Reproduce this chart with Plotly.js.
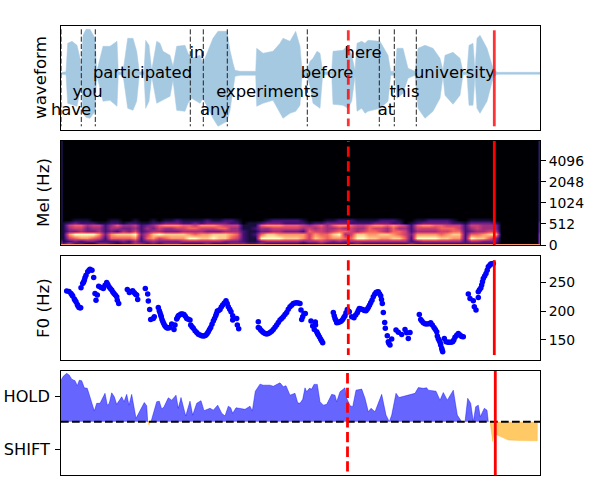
<!DOCTYPE html>
<html><head><meta charset="utf-8">
<script src="https://cdn.plot.ly/plotly-3.0.1.min.js"></script>
<style>html,body{margin:0;padding:0;background:#fff}</style></head>
<body><div id="chart" style="width:600px;height:500px"></div>
<script>
// waveform envelope
const waveX=[1,6,7.7,12,17,20,21,23,26,30,35,36.7,43,50,57,58.3,63,67.7,73,76.7,79.3,84,85.7,89,91.7,96.7,100,103,110,113,116.7,125,128,131.7,140,143,153,158,167,170,173,175,180,195.7,196.7,203,213,220,223,230,235.7,240,242,247,250,253,257,260,262.7,271.7,273,283,288,291.7,295,297,301.7,305,308,320,328,330.7,335,337,343,348,355,358,365,373,380,383,385,393,400,403,407,409,413,415,417,420,427,433,437,480];
const waveTop=[0.8,1.5,30,32,28,15,1,38,44,44,35,1.5,27,27,32,1.5,1.5,35,35,22,1.5,1.5,33,28,3,32,30,22,18,7,27,28,20,15,18,10,35,42,42,23,10,3,2,2,25,20,22,30,35,32,42,27,3,3,12,15,22,20,1.5,1.5,22,23,28,18,3,30,32,30,33,32,18,2,2,25,25,5,2,25,28,25,15,3,18,21,15,1.5,1.5,28,30,3,35,38,25,5,1,1];
const waveBot=[-0.8,-1.5,-30,-31,-33,-18,-1,-40,-44,-45,-38,-1.5,-28,-27,-33,-1.5,-1.5,-35,-37,-28,-1.5,-1.5,-35,-28,-3,-30,-28,-27,-23,-7,-37,-38,-30,-25,-30,-25,-45,-53,-48,-37,-15,-3,-2,-2,-33,-30,-27,-40,-45,-40,-38,-32,-3,-3,-13,-30,-33,-35,-1.5,-1.5,-31,-32,-35,-28,-3,-38,-35,-40,-38,-35,-28,-2,-2,-25,-20,-5,-2,-35,-45,-38,-25,-3,-22,-31,-22,-1.5,-1.5,-32,-32,-3,-35,-40,-28,-5,-1,-1];
const words=["have","you","participated","in","any","experiments","before","here","at","this","university"];
const wordX=[11,27.5,82.5,137,155,207.5,267,303,326,344.5,394.5];
const wordY=[-37.5,-19.5,-0.5,19.5,-37.5,-19.5,-0.5,19.5,-37.5,-19.5,-0.5];
const wordStarts=[1,21.3,35.3,130.3,143.3,167.3,247.3,319.3,334.3,356.3];
// mel spectrogram (brightness 0-9 per row, low row first)
const melBins=[-0.5,0.6,1.6,3.4,5.7,8,10.3,12.6,14.9,17.1,19.4,21.7,24,80];
const melRows=[
"8 888888 8 888 88 8 88 88888888888888 888 88888888 8888 8888888888888 8 88888888 8 88888 8888888",
"7 777777 7 777 77 7 77 77777777777777 777 77777777 7777 7777777777777 7 77777777 7 77777 7777777",
"2 422113 3 212 24 3 23 23332222322233 322 32222221 2232 2222322222222 3 22222222 2 22222 0000000",
"1 232332 2 223 24 2 34 33334444444333 211 34444443 4454 3434444444444 2 34444444 2 44333 0000000",
"1 567765 2 666 67 2 67 56777998898865 211 99998887 5876 7766998877886 2 99998877 2 98864 0000000",
"1 799997 3 788 89 3 58 98888767788876 212 68877777 5766 8945887788765 3 77776788 2 66789 0000000",
"1 334334 2 324 35 2 34 43334444333444 211 33443332 6554 5665456654665 2 44445566 2 34455 0000000",
"1 455344 2 443 34 2 43 54455665556644 112 44555554 5454 4545446554644 2 55556665 2 45444 0000000",
"1 566455 2 464 45 2 34 67776657776555 111 67776665 4564 6776556776765 2 67766555 2 55444 0000000",
"1 232221 1 221 22 1 12 23332232333322 011 23332222 1223 3332222333220 1 23333322 1 33332 0000000",
"0 011100 0 110 01 0 01 01121111211221 000 01222221 0001 1222111122210 0 11222210 0 11110 0000000",
"0 000000 0 000 00 0 00 00000000000000 000 00000000 0000 0000000000000 0 00000000 0 00000 0000000",
"0 000000 0 000 00 0 00 00000000000000 000 00000000 0000 0000000000000 0 00000000 0 00000 0000000",
"0 000000 0 000 00 0 00 00000000000000 000 00000000 0000 0000000000000 0 00000000 0 00000 0000000"];
const melLeftEdge=[8,7,3,2,1,1,1,1,1,1,1,1,1,1];
const melRightEdge=[8,7,4,4,4,4,3,3,3,3,2,2,2,2];
const melTickVals=[0,16,32,48,64];
const melTickText=["0","512","1024","2048","4096"];
// F0 track
const f0X=[6.7,9,11,12.7,14.3,16,17.3,19,20.7,21,22.7,24.3,26,27.7,30,32,33.7,35,37.3,36,38.7,43.3,46.7,49,51.7,54,56.7,57.3,58.7,67.3,69.3,72.7,74.3,76.7,77.7,85.3,87.7,88.3,89.7,90.7,93.3,94.3,98.3,99.3,100.7,102,103.7,105.7,107.7,110,111.7,114,115,116.7,118.3,121,124,126.7,130,130.7,133.3,136.7,140,143.3,146,148.3,150.7,153.3,155.7,157.3,160,162.7,166,168.3,171,172.7,172.7,176.7,177.3,178.7,198.3,198.3,200.7,203.3,206.7,210,213.3,216.7,220,223.3,226.7,230,233.3,236.7,240,241,241.7,242.7,244,245.3,251,255.3,252.7,254.3,256.7,258.3,260.7,262.7,273.3,275,276.7,280,282.7,285,287.3,289.3,291.7,294,297.3,299.3,302.7,306,308.3,310.7,313.3,316,318.3,320.7,322.3,323.3,324.7,325.3,327.3,328.3,330,331.7,336,338.3,341.7,345,346.7,348.3,350,359.3,360.7,363.3,366.7,370.7,374,376.7,377.3,379.3,380.7,381.7,382.7,384.3,386,389.3,392.7,395,398.3,401,403.3,408.3,410,413.3,416,414.3,418.3,418.3,421.7,423.3,426,428.3,430.7,433.3,
 12,15,18,20,23.5,25,29,41,45,47.8,50.3,52.8,55.3,71,75.5,100,101.3,102.8,104.7,106.7,108.8,117.5,119.5,122.5,125.3,128.3,132,135,138.3,141.7,144.7,147.2,149.5,152,154.5,156.5,158.7,161.3,164.3,167.2,169.7,199.5,202,205,208.3,211.7,215,218.3,221.7,225,228.3,231.7,235,238.3,255.5,257.5,259.5,261.7,274.2,275.8,278.3,281.3,283.8,286,288.3,295.7,298.3,300.5,304.3,307.2,309.5,312,314.7,317.2,319.5,321.5,328.8,361.8,365,368.7,372.3,375.3,378.3,380.2,382.2,388,391,393.8,396.7,399.7,402,419.5,420.8,422.5,424.7,427.2,429.5,432];
const f0Hz=[234.7,234,230.6,226,220.8,216.2,211.6,206.4,205.8,240.4,248,253.7,262.4,268.2,272.8,271,258.3,230.6,227.7,219,243.3,239.3,249.7,242.2,236.4,230.6,224.8,219,213.3,237.6,232.4,235.2,231.8,227.7,220.2,239.3,229.5,217.3,202.9,185.6,187.3,190.2,206.4,200.6,193,185.6,178.6,172.8,170.5,171.7,177.5,168.2,175.7,186.1,191.9,194.8,194.2,187.3,184.4,175.7,170,163,158.4,156.7,158.4,164.2,171.7,182.7,191.9,200,202.9,210.4,217.9,207.5,198.8,191.9,184.4,187.3,175.7,169.4,181.5,171.7,167,163,160.1,163,168.2,175.7,184.4,190.2,197.7,207.5,213.3,214.4,213.3,201.7,185.6,190.2,196,196,182.7,180.9,174,168.2,164.2,158.4,150.9,145.1,197.7,187.3,179.8,181.5,185.6,191.9,202.9,198.8,190.2,188.4,197.1,204.6,202.9,200.6,206.4,214.4,224.8,232.4,233.5,226.6,213.3,197.7,180.4,170,157.3,146.9,141.1,151.5,167,163.2,159.2,168.2,162.5,152.6,163,194.2,185.6,179.8,177.5,179.8,171.7,164.2,156.7,148.6,141.1,135.3,129.5,152.6,146.9,145.7,146.9,154.4,161.3,156.7,155.5,229.5,222,217.9,201.7,207.5,223.7,233.5,245.1,256.6,265.3,276.8,281.5,282.6,
 228,219,209,206,250,258,271,241,245,246,239,233,228,234,229,197,190,182,175,171,171,189,193,195,191,186,173,166,160,157,157,161,168,177,187,196,201,207,214,213,203,170,165,161,161,165,172,180,187,194,203,210,214,214,176,161,155,148,192,184,180,183,189,197,200,193,201,204,201,203,210,219,229,233,230,220,144,183,178,178,176,168,152,145,132,146,146,150,158,159,156,237,240,251,261,271,279,282];
// HOLD / SHIFT curves
const holdX=[1,3.3,6.7,9.3,11.7,15,17.3,19.3,21.7,24.3,27.3,30.7,34.3,36.7,40,45,47.3,49.3,51.7,54.3,56.7,61.7,64,66.7,69,71.7,76,84.3,86.7,87.7,91,96.7,99.3,101.7,104,108.3,111.7,116,118.3,121,125.7,130,132.7,136.7,141,144,150,153.3,157.7,161.7,165,168.3,170.7,172.7,176,185,190,192.3,195.3,200,203.3,210,213.3,220,223.3,226,230,235,237.7,240,242.7,245,246.7,249.3,251.7,254,257.3,260,263.3,266.7,271.7,275,276.7,280,285,286.7,290,292.7,296,301.7,305,308.3,311,315,321.7,326,329.3,331.7,336,339,355,358.3,363.3,366.7,368.3,376,380,383.3,387.3,393.3,397.3,401.7,405,407.7,410.7,413.3,415.7,418.3,420.3,424.3,427,428.3];
const holdY=[1.58,1.73,1.84,1.77,1.62,1.56,1.37,1.58,1.56,1.29,1.27,0.89,0.41,0.7,0.7,1.08,0.63,0.7,1.1,0.95,0.66,0.95,0.76,1.04,0.63,1.04,0.13,0.73,0.61,0,0,0.76,0.78,0.48,0.57,0.91,0.82,1.01,0.51,0.92,0.22,0.78,0.25,0.7,0.8,0.42,0.51,0.44,0.63,0.32,0.22,0.59,0.53,0.32,0.53,0.47,0.59,0.41,1.16,1.43,1.39,1.39,1.35,1.48,1.33,1.37,1.01,1.08,0.72,0.7,0.85,1.29,1.14,1.27,1.24,1.42,1.42,0.76,0.63,0.66,1.04,1.01,0.76,1.14,1.29,0.89,0.61,0.57,1.2,1.24,0.89,0.38,0.51,0.38,1.04,0.25,0,0.25,1.08,0.92,1.08,1.3,1.27,1.29,1.2,1.16,0.82,1.11,0.82,1.2,0.25,0,0,0.89,0.7,0,0.57,0.63,0.19,0.51,0.44,0];
const shiftX=[88,89,90,430,432.7,434,438.3,448.3,460,477.3,477.4];
const shiftY=[0,-0.13,0,0,-0.76,-0.44,-0.53,-0.7,-0.72,-0.73,0];
const decisionTicks=[0.95,-1.05];
const decisionLabels=["HOLD","SHIFT"];

const vLines=(xs,a,b)=>({x:xs.flatMap(v=>[v,v,null]),y:xs.flatMap(()=>[a,b,null])});
const line=(ax,xs,a,b,color,w,dash)=>Object.assign(vLines(xs,a,b),{type:'scatter',mode:'lines',xaxis:'x'+ax,yaxis:'y'+ax,line:{color:color,width:w,dash:dash||'solid'},hoverinfo:'skip',showlegend:false});
const redDash="10.3px,4.4px";
const magma=[[0,'#000004'],[.1,'#140e36'],[.2,'#3b0f70'],[.3,'#641a80'],[.4,'#8c2981'],[.5,'#b73779'],[.6,'#de4968'],[.7,'#f7705c'],[.8,'#fe9f6d'],[.9,'#fecf92'],[1,'#fcfdbf']];
const melCols=melRows.map((r,i)=>[melLeftEdge[i]].concat(r.replace(/ /g,'').split('').map(Number),[melRightEdge[i]]));
const melX=[1.6].concat(melCols[0].slice(2).map((_,i)=>3+6*i),[479.4]);

const traces=[
 {type:'scatter',mode:'lines',x:waveX.concat(waveX.slice().reverse()),y:waveTop.concat(waveBot.slice().reverse()),fill:'toself',fillcolor:'#a6c9e2',line:{color:'#a6c9e2',width:0.5},xaxis:'x',yaxis:'y',hoverinfo:'skip',showlegend:false},
 line('',wordStarts,44,-53,'#222',1,"5.1px,2.2px"),
 {type:'scatter',mode:'text',x:wordX,y:wordY,text:words,textposition:'middle center',textfont:{family:'DejaVu Sans',size:16.4,color:'#000'},cliponaxis:false,xaxis:'x',yaxis:'y',hoverinfo:'skip',showlegend:false},
 line('',[288.3],43,-53,'rgba(255,0,0,0.8)',2.8,redDash),
 line('',[434.3],43,-53,'rgba(255,0,0,0.8)',2.8),
 {type:'heatmap',x:melX,y:melBins,z:melCols,colorscale:magma,zmin:0,zmax:9,zsmooth:'best',showscale:false,xaxis:'x2',yaxis:'y2',hoverinfo:'skip'},
 line('2',[288.3],0,80,'#ff0000',2.8,redDash),
 line('2',[434.3],0,80,'#ff0000',2.8),
 {type:'scatter',mode:'markers',x:f0X,y:f0Hz,marker:{color:'#0000ff',size:5.5,line:{width:0}},xaxis:'x3',yaxis:'y3',hoverinfo:'skip',showlegend:false},
 line('3',[288.3],288.4,123.7,'#ff0000',2.8,redDash),
 line('3',[434.3],288.4,123.7,'#ff0000',2.8),
 {type:'scatter',mode:'lines',x:holdX,y:holdY,fill:'tozeroy',fillcolor:'rgba(0,0,255,0.6)',line:{color:'rgba(0,0,255,0.4)',width:1},xaxis:'x4',yaxis:'y4',hoverinfo:'skip',showlegend:false},
 {type:'scatter',mode:'lines',x:shiftX,y:shiftY,fill:'tozeroy',fillcolor:'rgba(255,165,0,0.6)',line:{color:'rgba(255,165,0,0.3)',width:1},xaxis:'x4',yaxis:'y4',hoverinfo:'skip',showlegend:false},
 {type:'scatter',mode:'lines',x:[1,480],y:[0,0],line:{color:'#000',width:2.1,dash:"7.7px,3.3px"},xaxis:'x4',yaxis:'y4',hoverinfo:'skip',showlegend:false},
 line('4',[287.5],1.85,-1.91,'#ff0000',2.8,redDash),
 line('4',[435.3],1.93,-2.03,'#ff0000',2.8)
];
const dom=(t,b)=>[(475-b)/449,(475-t)/449];
const xBase=(anchor)=>({domain:[0,1],range:[1,480],anchor:anchor,showticklabels:false,ticks:'',showgrid:false,zeroline:false,showline:true,mirror:true,linecolor:'#000',linewidth:1});
const yBase=(anchor,d,range)=>({domain:d,range:range,anchor:anchor,showgrid:false,zeroline:false,showline:true,mirror:true,linecolor:'#000',linewidth:1,tickfont:{family:'DejaVu Sans',size:13.9,color:'#000'},ticks:'outside',ticklen:4.9,tickcolor:'#000',tickwidth:1});
const yTitle=(t,x,y)=>({text:t,xref:'paper',yref:'paper',x:(x-61)/479,y:(475-y)/449,xanchor:'center',yanchor:'middle',textangle:-90,showarrow:false,font:{family:'DejaVu Sans',size:16.7,color:'#000'}});
const layout={
 width:600,height:500,paper_bgcolor:'#fff',plot_bgcolor:'#fff',showlegend:false,
 margin:{l:61,r:60,t:26,b:25,pad:0},
 xaxis:xBase('y'),xaxis2:xBase('y2'),xaxis3:xBase('y3'),xaxis4:xBase('y4'),
 yaxis:Object.assign(yBase('x',dom(26,130),[-56.7,47.3]),{showticklabels:false,ticks:''}),
 yaxis2:Object.assign(yBase('x2',dom(141,245),[0,79.2]),{side:'right',tickmode:'array',tickvals:melTickVals,ticktext:melTickText}),
 yaxis3:Object.assign(yBase('x3',dom(256,360),[115.1,295.6]),{side:'right',tickmode:'array',tickvals:[150,200,250],ticktext:["150","200","250"]}),
 yaxis4:Object.assign(yBase('x4',dom(371,475),[-2.03,1.93]),{tickmode:'array',tickvals:decisionTicks,ticktext:decisionLabels,ticklabelstandoff:2,tickfont:{family:'DejaVu Sans',size:16.2,color:'#000'}}),
 annotations:[yTitle('waveform',40,78),yTitle('Mel (Hz)',43,193),yTitle('F0 (Hz)',43,308)]
};
Plotly.newPlot('chart',traces,layout,{displayModeBar:false,staticPlot:true});
</script></body></html>
